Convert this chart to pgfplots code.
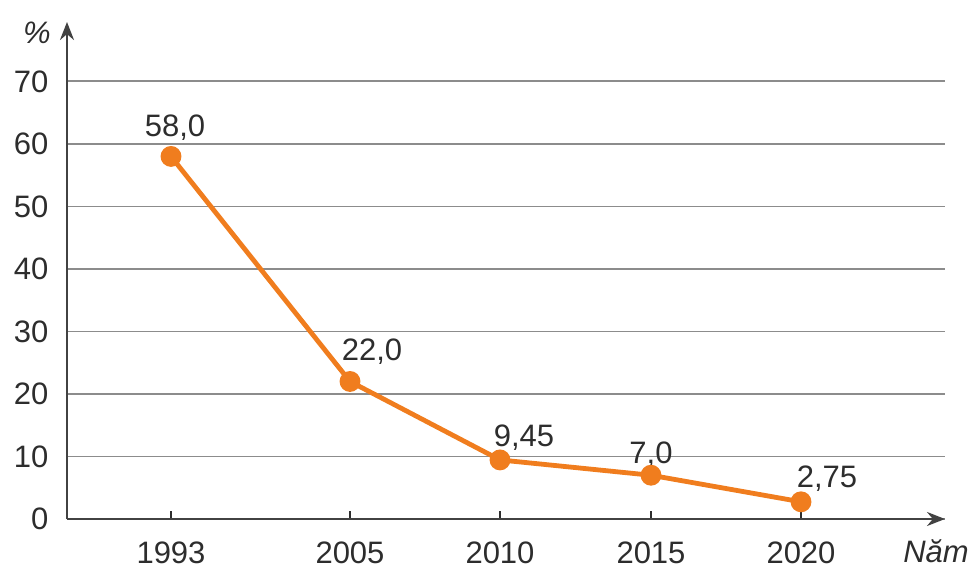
\documentclass[border=0pt]{standalone}
\usepackage{pgfplots}
\pgfplotsset{compat=1.18}
\usepackage{fontspec}
\setmainfont{Liberation Sans}
\usetikzlibrary{arrows.meta}
\definecolor{lineor}{RGB}{240,125,30}
\definecolor{txt}{RGB}{45,45,45}
\definecolor{gridc}{RGB}{140,140,140}
\begin{document}
\fontsize{15.5pt}{18pt}\selectfont
\begin{tikzpicture}
\useasboundingbox (-33.5pt,-24.5pt) rectangle (451.5pt,259.5pt);
\begin{axis}[
  at={(0,0)}, anchor=south west,
  scale only axis, width=439pt, height=248.5pt,
  xmin=67, xmax=945, ymin=0, ymax=79.5,
  axis x line=bottom, axis y line=left,
  axis line style={txt!90, line width=1.3pt, -{Stealth[length=9pt,width=7pt]}},
  xtick={171,350,500,651,801}, xticklabels={1993,2005,2010,2015,2020},
  ytick={0,10,...,70},
  ymajorgrids, grid style={gridc, line width=0.9pt},
  tick align=inside,
  major tick length=4pt,
  ytick style={draw=none}, xtick style={txt, line width=1pt},
  ticklabel style={font=\fontsize{15.5pt}{18pt}\selectfont, text=txt},
  xticklabel style={anchor=base, yshift=-22pt},
  yticklabel style={xshift=-4pt},
  clip=false,
  /pgf/number format/assume math mode=true,
]
\addplot[lineor, line width=2.4pt, mark=*, mark size=4pt, mark options={fill=lineor, draw=lineor}]
  coordinates {(171,58) (350,22) (500,9.45) (651,7) (801,2.75)};
\node[text=txt] at (axis cs:175,62.6) {58,0};
\node[text=txt] at (axis cs:372,26.75) {22,0};
\node[text=txt] at (axis cs:524,13.0) {9,45};
\node[text=txt] at (axis cs:651,10.25) {7,0};
\node[text=txt] at (axis cs:827,6.4) {2,75};
\node[text=txt, font=\itshape\fontsize{15.5pt}{18pt}\selectfont] at (axis cs:37,77.8) {\%};
\node[text=txt, anchor=base, font=\itshape\fontsize{15.5pt}{18pt}\selectfont] at (axis cs:936,-6.9) {Năm};
\end{axis}
\end{tikzpicture}
\end{document}
